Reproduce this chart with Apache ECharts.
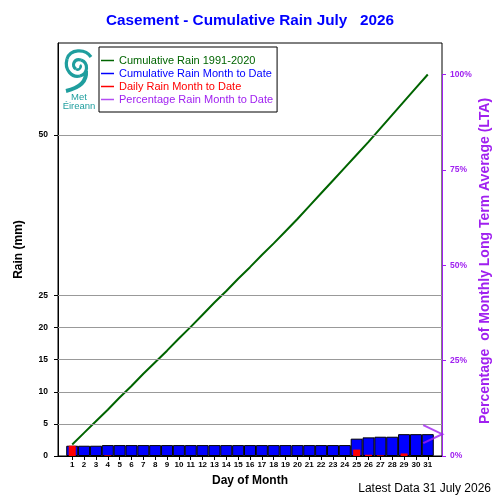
<!DOCTYPE html>
<html>
<head>
<meta charset="utf-8">
<script src="https://cdn.jsdelivr.net/npm/echarts@6/dist/echarts.min.js"></script>
<style>
html,body{margin:0;padding:0;background:#fff;}
#chart{width:500px;height:500px;}
</style>
</head>
<body>
<div id="chart"></div>
<script>
// ---- data ----
const days = [1,2,3,4,5,6,7,8,9,10,11,12,13,14,15,16,17,18,19,20,21,22,23,24,25,26,27,28,29,30,31];
const dailyRain = [1.6,0,0,0.1,0,0,0,0,0,0,0,0,0,0,0,0,0,0,0,0,0,0,0,0,1.0,0.2,0.1,0,0.4,0,0];
const cumRain = [1.6,1.6,1.6,1.7,1.7,1.7,1.7,1.7,1.7,1.7,1.7,1.7,1.7,1.7,1.7,1.7,1.7,1.7,1.7,1.7,1.7,1.7,1.7,1.7,2.7,2.9,3.0,3.0,3.4,3.4,3.4];
const ltaCum = [1.8,3.6,5.4,7.2,9.1,10.9,12.8,14.6,16.4,18.3,20.1,22.0,23.9,25.7,27.6,29.4,31.3,33.1,35.0,36.9,38.9,40.9,42.9,44.9,46.9,48.9,51.0,53.1,55.2,57.3,59.4];
const leftTicks = [0,5,10,15,20,25,50];
const gridValues = [5,10,15,20,25,50];
const rightTicks = [0,25,50,75,100];

const seriesNames = ['Cumulative Rain 1991-2020','Cumulative Rain Month to Date','Daily Rain Month to Date','Percentage Rain Month to Date'];
const titleText = 'Casement - Cumulative Rain July   2026';
const footerText = 'Latest Data 31 July 2026';

// ---- derived ----
const X_MIN = -0.2, X_MAX = 32.2, Y_MAX = 64.3;
const ltaTotal = ltaCum[ltaCum.length - 1];
const rightMax = Y_MAX / ltaTotal * 100;
const pct = cumRain[cumRain.length - 1] / ltaTotal * 100;
const lastDay = days[days.length - 1];

const FONT = "'Liberation Sans', Arial, Helvetica, sans-serif";
const GREEN = '#006400', BLUE = '#0000ff', RED = '#ff0000', PURPLE = '#a020f0', TEAL = '#1f9e9e';

const ltaData = days.map((d, i) => [d, ltaCum[i]]);
const cumData = days.map((d, i) => [d, cumRain[i]]);
const dailyData = days.map((d, i) => [d, dailyRain[i]]);

const chart = echarts.init(document.getElementById('chart'), null, {renderer: 'canvas'});

const xAxisBase = {
  type: 'value', min: X_MIN, max: X_MAX,
  splitLine: {show: false}
};

function curve(p) {
  return {type: 'bezierCurve', shape: {x1: p[0], y1: p[1], cpx1: p[2], cpy1: p[3], cpx2: p[4], cpy2: p[5], x2: p[6], y2: p[7]},
    style: {stroke: TEAL, lineWidth: p[8] || 3.2, fill: null}};
}

chart.setOption({
  animation: false,
  backgroundColor: '#fff',
  textStyle: {fontFamily: FONT},
  title: {
    text: titleText, left: 'center', top: 8,
    textStyle: {color: BLUE, fontSize: 15.3, fontWeight: 'bold', fontFamily: FONT}
  },
  grid: {left: 58, right: 58, top: 43, bottom: 44, show: true, borderColor: '#000', borderWidth: 1, backgroundColor: 'transparent'},
  legend: {
    orient: 'vertical', left: 99, top: 47,
    backgroundColor: '#fff', borderColor: '#000', borderWidth: 1,
    padding: [7, 4, 6, 2], itemGap: 0, itemWidth: 13, itemHeight: 1.5,
    icon: 'rect',
    textStyle: {fontSize: 11, fontFamily: FONT, lineHeight: 13},
    data: [
      {name: seriesNames[0], itemStyle: {color: GREEN, borderWidth: 0}, textStyle: {color: GREEN}},
      {name: seriesNames[1], itemStyle: {color: BLUE, borderWidth: 0}, textStyle: {color: BLUE}},
      {name: seriesNames[2], itemStyle: {color: RED, borderWidth: 0}, textStyle: {color: RED}},
      {name: seriesNames[3], itemStyle: {color: PURPLE, borderWidth: 0}, textStyle: {color: PURPLE}}
    ]
  },
  xAxis: [
    Object.assign({}, xAxisBase, {
      name: 'Day of Month', nameLocation: 'middle', nameGap: 19,
      nameTextStyle: {fontSize: 12, fontWeight: 'bold', color: '#000', fontFamily: FONT},
      axisLine: {show: true, onZero: false, lineStyle: {color: '#000', width: 1}},
      axisTick: {show: true, length: 4, lineStyle: {color: '#000'}, customValues: days},
      axisLabel: {show: true, color: '#000', fontSize: 8, fontWeight: 'bold', margin: 5, customValues: days, fontFamily: FONT}
    }),
    Object.assign({}, xAxisBase, {show: false})
  ],
  yAxis: [
    {
      type: 'value', min: 0, max: Y_MAX, position: 'left',
      name: 'Rain (mm)', nameLocation: 'middle', nameGap: 33,
      nameTextStyle: {fontSize: 12, fontWeight: 'bold', color: '#000', fontFamily: FONT},
      axisLine: {show: true, onZero: false, lineStyle: {color: '#000', width: 1}},
      axisTick: {show: true, length: 4, lineStyle: {color: '#000'}, customValues: leftTicks},
      axisLabel: {color: '#000', fontSize: 8.5, fontWeight: 'bold', margin: 10, customValues: leftTicks, fontFamily: FONT},
      splitLine: {show: false}
    },
    {
      type: 'value', min: 0, max: rightMax, position: 'right',
      axisLine: {show: false, onZero: false},
      axisTick: {show: true, length: 4, lineStyle: {color: PURPLE}, customValues: rightTicks},
      axisLabel: {color: PURPLE, fontSize: 8.5, fontWeight: 'bold', margin: 8, customValues: rightTicks, formatter: '{value}%', fontFamily: FONT},
      splitLine: {show: false}
    }
  ],
  series: [
    {
      name: seriesNames[1], type: 'bar', xAxisIndex: 0, yAxisIndex: 0,
      data: cumData, barWidth: 12,
      itemStyle: {color: BLUE, borderColor: '#000', borderWidth: 1},
      z: 2,
      markLine: {
        silent: true, symbol: 'none', label: {show: false},
        lineStyle: {color: '#999', width: 1, type: 'solid'},
        data: gridValues.map(v => ({yAxis: v}))
      }
    },
    {
      name: seriesNames[2], type: 'bar', xAxisIndex: 1, yAxisIndex: 0,
      data: dailyData, barWidth: 7,
      itemStyle: {color: RED},
      z: 3
    },
    {
      name: seriesNames[0], type: 'line', xAxisIndex: 0, yAxisIndex: 0,
      data: ltaData, showSymbol: false, symbol: 'none',
      lineStyle: {color: GREEN, width: 2},
      itemStyle: {color: GREEN},
      z: 4
    },
    {
      name: seriesNames[3], type: 'scatter', xAxisIndex: 0, yAxisIndex: 1,
      data: [[lastDay, pct]], clip: false,
      symbol: 'path://M0,0L10,5L0,10', symbolSize: [19, 18], symbolOffset: [5, 0], symbolKeepAspect: false,
      itemStyle: {color: 'none', borderColor: PURPLE, borderWidth: 2},
      z: 5,
      markLine: {
        silent: true, symbol: 'none', label: {show: false},
        lineStyle: {color: PURPLE, width: 1, type: 'solid'},
        data: [[{coord: [X_MAX, 0]}, {coord: [X_MAX, 100]}]]
      }
    }
  ],
  graphic: [
    {
      type: 'text', x: 485.5, y: 261, rotation: Math.PI / 2,
      style: {text: 'Percentage  of Monthly Long Term Average (LTA)', fill: PURPLE, font: 'bold 14px ' + FONT, textAlign: 'center', textVerticalAlign: 'middle'}
    },
    {
      type: 'text', x: 491, y: 489,
      style: {text: footerText, fill: '#000', font: '12px ' + FONT, textAlign: 'right', textVerticalAlign: 'middle'}
    },
    {
      type: 'group', z: 10,
      children: [
        curve([91,57, 85,48, 70,49, 67,59]),
        curve([67,59, 64,70, 72,78, 80,76]),
        curve([80,76, 88,74, 89,63, 81,60]),
        curve([81,60, 74,58, 71,66, 76,69]),
        curve([76,69, 79,71, 82,67, 80,65, 2.5]),
        curve([86,71, 87,82, 79,88, 66,91, 4]),
        {type: 'text', x: 79, y: 97, style: {text: 'Met', fill: TEAL, font: '9.5px ' + FONT, textAlign: 'center', textVerticalAlign: 'middle'}},
        {type: 'text', x: 79, y: 106, style: {text: 'Éireann', fill: TEAL, font: '9.5px ' + FONT, textAlign: 'center', textVerticalAlign: 'middle'}}
      ]
    }
  ]
});
</script>
</body>
</html>
